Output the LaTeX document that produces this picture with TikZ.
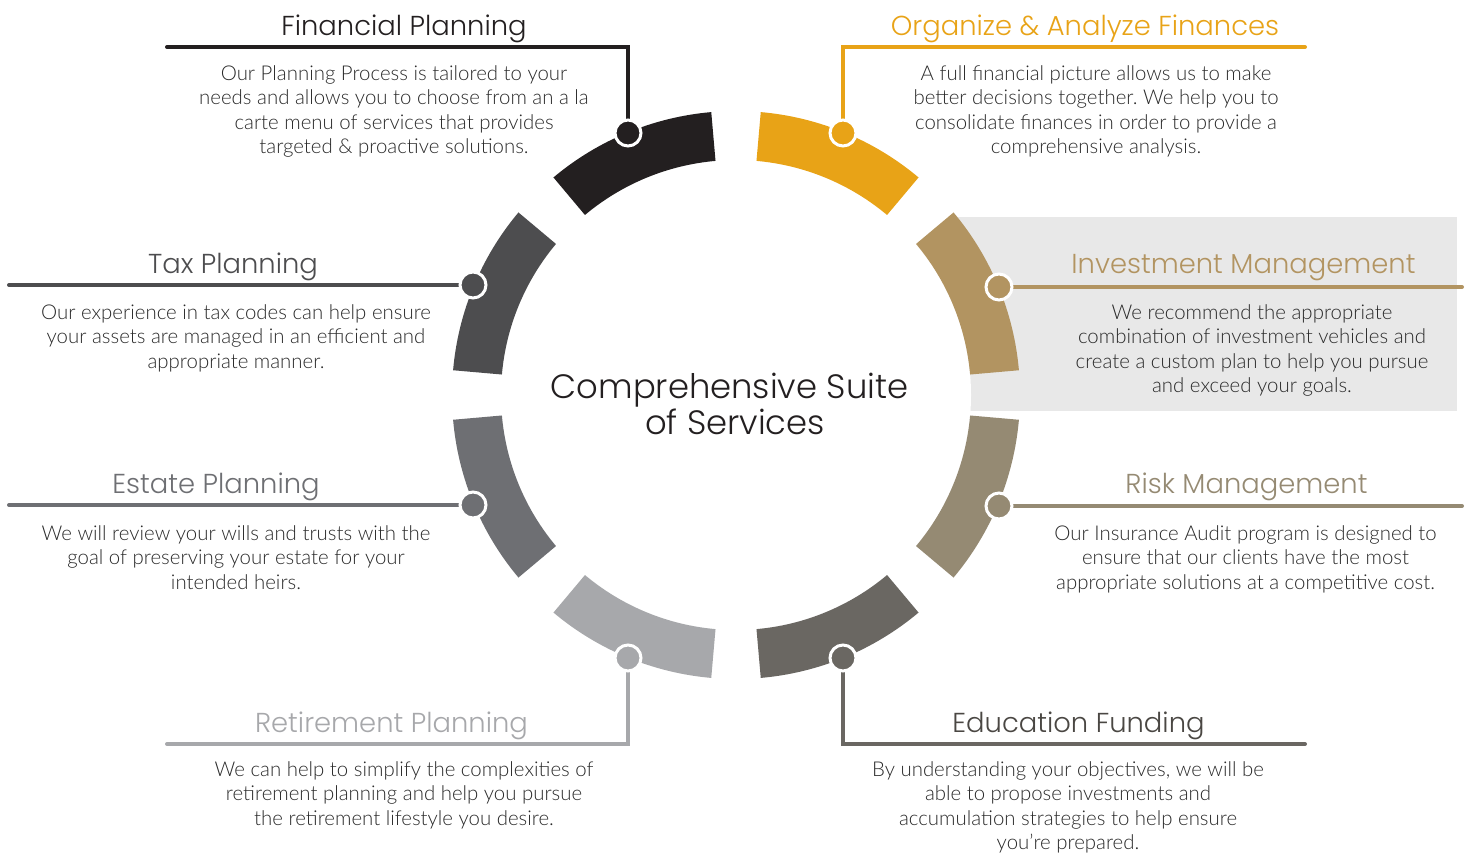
\documentclass[tikz,border=0pt]{standalone}
\usepackage{fontspec}
\newfontfamily\headfont{Poppins}[UprightFont={* Light}]
\newfontfamily\bodyfont{Lato}[UprightFont={* Light}]
\frenchspacing
\definecolor{cFin}{HTML}{231F20}
\definecolor{cOrg}{HTML}{E8A317}
\definecolor{cInv}{HTML}{B29461}
\definecolor{cRisk}{HTML}{958A73}
\definecolor{cEdu}{HTML}{6A6762}
\definecolor{cEduT}{HTML}{4A4743}
\definecolor{cRet}{HTML}{A7A8AB}
\definecolor{cEst}{HTML}{6E6F73}
\definecolor{cTax}{HTML}{4D4D4F}
\definecolor{boxgray}{HTML}{E8E8E8}
\definecolor{bodytext}{HTML}{2A2A2A}
\begin{document}
\begin{tikzpicture}[x=1pt,y=-1pt,
  conn/.style={draw=#1, line width=4pt, line cap=round, line join=miter},
  dot/.style={circle, fill=#1, draw=white, line width=3pt, minimum size=26pt, inner sep=0pt},
  head/.style={anchor=base, inner sep=0pt, text=#1, font=\headfont\fontsize{27.4}{31}\selectfont},
  body/.style={anchor=north, inner sep=0pt, align=center, text=bodytext,
    font=\bodyfont\fontsize{20.4}{24.6}\selectfont\frenchspacing, execute at begin node={\rule{0pt}{15pt}}},
  title/.style={anchor=base, inner sep=0pt, text=cFin, font=\headfont\fontsize{33.8}{37}\selectfont},
]
\useasboundingbox (0,0) rectangle (1465,852);
% highlight box behind Investment Management
\fill[boxgray] (953,217) rectangle (1457,411);
\coordinate (ctr) at (736,395);
\fill[white] (ctr) circle (235);
% ring segments
\begin{scope}[shift={(736,395)}]
\foreach \m/\c in {-112.5/cFin, -67.5/cOrg, -22.5/cInv, 22.5/cRisk, 67.5/cEdu, 112.5/cRet, 157.5/cEst, -157.5/cTax}{
  \fill[\c] (\m-17.5:284) arc[start angle=\m-17.5, end angle=\m+17.5, radius=284]
    -- (\m+17.5:235) arc[start angle=\m+17.5, end angle=\m-17.5, radius=235] -- cycle;
}
\end{scope}
% dot positions and connector ends
\coordinate (pF) at (628,133);
\coordinate (pO) at (843,133);
\coordinate (pI) at (999,287);
\coordinate (pR) at (999,506);
\coordinate (pE) at (843,658);
\coordinate (pRt) at (628,658);
\coordinate (pEs) at (473,505);
\coordinate (pT) at (473,285);
\coordinate (eF) at (167,47);
\coordinate (eO) at (1305,47);
\coordinate (eI) at (1462,287);
\coordinate (eR) at (1462,506);
\coordinate (eE) at (1305,744);
\coordinate (eRt) at (167,744);
\coordinate (eEs) at (9,505);
\coordinate (eT) at (9,285);
% connectors
\draw[conn=cFin] (pF) |- (eF);
\draw[conn=cOrg] (pO) |- (eO);
\draw[conn=cInv] (pI) -- (eI);
\draw[conn=cRisk] (pR) -- (eR);
\draw[conn=cEdu] (pE) |- (eE);
\draw[conn=cRet] (pRt) |- (eRt);
\draw[conn=cEst] (pEs) -- (eEs);
\draw[conn=cTax] (pT) -- (eT);
% dots
\node[dot=cFin] (dF) at (pF) {};
\node[dot=cOrg] (dO) at (pO) {};
\node[dot=cInv] (dI) at (pI) {};
\node[dot=cRisk] (dR) at (pR) {};
\node[dot=cEdu] (dE) at (pE) {};
\node[dot=cRet] (dRt) at (pRt) {};
\node[dot=cEst] (dEs) at (pEs) {};
\node[dot=cTax] (dT) at (pT) {};
% headings
\node[head=cFin] (hF) at (404,35) {Financial Planning};
\node[head=cOrg] (hO) at (1085,35) {Organize \& Analyze Finances};
\node[head=cTax] (hT) at (233,273) {Tax Planning};
\node[head=cInv] (hI) at (1243.5,273) {Investment Management};
\node[head=cEst] (hEs) at (216,493) {Estate Planning};
\node[head=cRisk] (hR) at (1246.5,493) {Risk Management};
\node[head=cRet] (hRt) at (391.5,732) {Retirement Planning};
\node[head=cEduT] (hE) at (1078.5,732) {Education Funding};
% bodies
\node[body] (bF) at (394,65) {Our Planning Process is tailored to your\\needs and allows you to choose from an a la\\carte menu of services that provides\\targeted \& proactive solutions.};
\node[body] (bO) at (1096,65) {A full financial picture allows us to make\\better decisions together. We help you to\\consolidate finances in order to provide a\\comprehensive analysis.};
\node[body] (bT) at (236,304) {Our experience in tax codes can help ensure\\your assets are managed in an efficient and\\appropriate manner.};
\node[body] (bI) at (1252,304) {We recommend the appropriate\\combination of investment vehicles and\\create a custom plan to help you pursue\\and exceed your goals.};
\node[body] (bEs) at (236,525) {We will review your wills and trusts with the\\goal of preserving your estate for your\\intended heirs.};
\node[body] (bR) at (1245.5,525) {Our Insurance Audit program is designed to\\ensure that our clients have the most\\appropriate solutions at a competitive cost.};
\node[body] (bRt) at (404,761) {We can help to simplify the complexities of\\retirement planning and help you pursue\\the retirement lifestyle you desire.};
\node[body] (bE) at (1068,761) {By understanding your objectives, we will be\\able to propose investments and\\accumulation strategies to help ensure\\you’re prepared.};
% center title
\node[title] (t1) at (729.5,398) {Comprehensive Suite};
\node[title] (t2) at (735,434) {of Services};
\end{tikzpicture}
\end{document}
